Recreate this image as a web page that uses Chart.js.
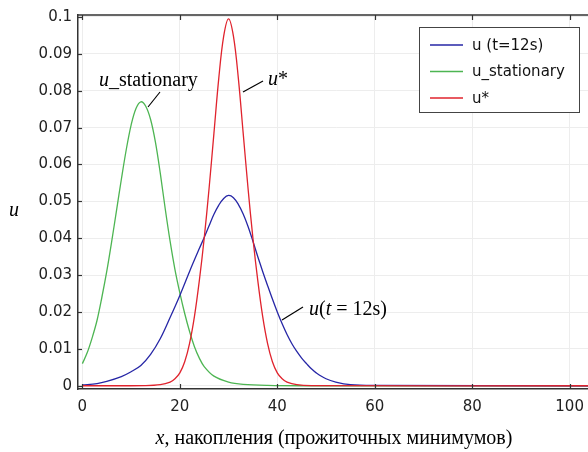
<!DOCTYPE html>
<html>
<head>
<meta charset="utf-8">
<script src="https://cdn.jsdelivr.net/npm/chart.js@4.4.1/dist/chart.umd.min.js"></script>
<style>
  html, body { margin: 0; padding: 0; background: #fff; overflow: hidden; width: 588px; height: 452px; }
  canvas { display: block; }
</style>
</head>
<body>
<canvas id="grafico" width="600" height="452"></canvas>
<script>
const xTicks = [0, 20, 40, 60, 80, 100];
const yTicks = [0, 0.01, 0.02, 0.03, 0.04, 0.05, 0.06, 0.07, 0.08, 0.09, 0.1];

const nomes = ["u (t=12s)", "u_stationary", "u*"];
const cores = ["#2626a6", "#4db552", "#e0232d"];

// u(t=12s)
const xT12 = [0, 3, 5, 8, 10, 12, 14, 16, 18, 20, 22, 24, 25, 26, 27, 28, 29, 30, 31, 32, 33, 34, 35, 36, 37, 38, 39, 40, 41, 42, 43, 44, 45, 46, 47, 48, 50, 52, 55, 60, 105];
const uT12 = [0.0002, 0.0006, 0.0012, 0.0025, 0.0038, 0.0055, 0.0085, 0.0128, 0.0185, 0.0245, 0.031, 0.0372, 0.0402, 0.0434, 0.0465, 0.049, 0.0508, 0.0516, 0.051, 0.0492, 0.0466, 0.0432, 0.0392, 0.035, 0.031, 0.0272, 0.0235, 0.0200, 0.0168, 0.0139, 0.0114, 0.0093, 0.0075, 0.006, 0.0046, 0.0035, 0.0019, 0.001, 0.0003, 0.0001, 0];

// u_stationary
const xStat = [0, 1, 2, 3, 4, 5, 6, 7, 8, 9, 10, 11, 12, 13, 14, 15, 16, 17, 18, 19, 20, 21, 22, 23, 24, 25, 27, 30, 33, 38, 45, 105];
const uStat = [0.006, 0.009, 0.013, 0.0177, 0.024, 0.031, 0.039, 0.0475, 0.056, 0.064, 0.0707, 0.0752, 0.077, 0.0758, 0.0722, 0.066, 0.0575, 0.048, 0.0392, 0.0315, 0.0252, 0.0196, 0.0147, 0.0106, 0.0075, 0.0052, 0.0026, 0.001, 0.0004, 0.0001, 0, 0];

// u*
const xStar = [0, 13, 16, 18, 19, 20, 21, 22, 23, 24, 25, 26, 27, 28, 29, 30, 31, 32, 33, 34, 35, 36, 37, 38, 39, 40, 41, 42, 44, 47, 105];
const uStar = [0, 0.00005, 0.0003, 0.001, 0.0019, 0.0035, 0.0065, 0.0115, 0.0188, 0.0285, 0.040, 0.0535, 0.0685, 0.0835, 0.0948, 0.0995, 0.0948, 0.0835, 0.0685, 0.0535, 0.040, 0.0285, 0.0188, 0.0115, 0.0065, 0.0035, 0.0019, 0.001, 0.0003, 0.00005, 0];

const pontos = (xs, ys) => xs.map((x, i) => ({ x, y: ys[i] }));

const SERIF = '"Liberation Serif", "Times New Roman", serif';
const SANS = '"DejaVu Sans", sans-serif';

// texto com partes em itálico
function textoMisto(ctx, partes, x, y, size, align) {
  let largura = 0;
  partes.forEach(p => {
    ctx.font = (p.i ? "italic " : "") + size + "px " + SERIF;
    largura += ctx.measureText(p.t).width;
  });
  let cx = align === "center" ? x - largura / 2 : x;
  ctx.textAlign = "left";
  partes.forEach(p => {
    ctx.font = (p.i ? "italic " : "") + size + "px " + SERIF;
    ctx.fillText(p.t, cx, y);
    cx += ctx.measureText(p.t).width;
  });
}

function linha(ctx, x1, y1, x2, y2) {
  ctx.beginPath();
  ctx.moveTo(x1, y1);
  ctx.lineTo(x2, y2);
  ctx.stroke();
}

const moldura = {
  id: "moldura",
  afterDatasetsDraw(chart) {
    const { ctx, chartArea: a, scales } = chart;
    ctx.save();
    ctx.strokeStyle = "#333";
    ctx.lineWidth = 1.5;
    linha(ctx, a.left, a.top, a.right, a.top);
    ctx.lineWidth = 1.2;
    xTicks.forEach(v => {
      const px = Math.round(scales.x.getPixelForValue(v)) + 0.5;
      linha(ctx, px, a.bottom, px, a.bottom - 5);
      linha(ctx, px, a.top, px, a.top + 5);
    });
    yTicks.forEach(v => {
      const py = Math.round(scales.y.getPixelForValue(v)) + 0.5;
      linha(ctx, a.left, py, a.left + 4, py);
    });
    ctx.restore();
  },
  afterDraw(chart) {
    const ctx = chart.ctx;
    ctx.save();

    // legenda
    ctx.fillStyle = "#fff";
    ctx.fillRect(419.5, 27.5, 160, 85);
    ctx.strokeStyle = "#444";
    ctx.lineWidth = 1;
    ctx.strokeRect(419.5, 27.5, 160, 85);
    const linhasY = [45, 71.5, 98];
    nomes.forEach((n, i) => {
      ctx.strokeStyle = cores[i];
      ctx.lineWidth = 1.6;
      linha(ctx, 430, linhasY[i], 463, linhasY[i]);
      ctx.fillStyle = "#111";
      ctx.font = "15px " + SANS;
      ctx.textBaseline = "middle";
      ctx.textAlign = "left";
      ctx.fillText(n, 472, linhasY[i] + 1);
    });

    // anotações
    ctx.fillStyle = "#000";
    ctx.strokeStyle = "#000";
    ctx.lineWidth = 1.2;
    ctx.textBaseline = "alphabetic";
    textoMisto(ctx, [{ t: "u", i: true }, { t: "_stationary" }], 99, 86, 20, "left");
    linha(ctx, 160, 92, 148, 107);
    textoMisto(ctx, [{ t: "u", i: true }, { t: "*" }], 268, 85, 20, "left");
    linha(ctx, 263, 81, 243, 92);
    textoMisto(ctx, [{ t: "u", i: true }, { t: "(" }, { t: "t", i: true }, { t: " = 12s)" }], 309, 315, 20, "left");
    linha(ctx, 303, 307, 282, 320);

    // títulos dos eixos
    textoMisto(ctx, [{ t: "u", i: true }], 9, 216, 20, "left");
    textoMisto(ctx, [{ t: "x", i: true }, { t: ", накопления (прожиточных минимумов)" }], 334, 444, 20, "center");
    ctx.restore();
  }
};

const ctx = document.getElementById("grafico");

new Chart(ctx, {
  type: "line",
  data: {
    datasets: [
      { label: nomes[0], data: pontos(xT12, uT12), borderColor: cores[0], order: 2 },
      { label: nomes[1], data: pontos(xStat, uStat), borderColor: cores[1], order: 3 },
      { label: nomes[2], data: pontos(xStar, uStar), borderColor: cores[2], order: 1 }
    ]
  },
  options: {
    responsive: false,
    animation: false,
    layout: { padding: { left: 0, right: 6, top: 11, bottom: 0 } },
    elements: {
      point: { radius: 0 },
      line: { borderWidth: 1.3, tension: 0.35, fill: false }
    },
    plugins: {
      legend: { display: false },
      tooltip: { enabled: false }
    },
    scales: {
      x: {
        type: "linear",
        min: -0.9,
        max: 105,
        afterBuildTicks: s => { s.ticks = xTicks.map(v => ({ value: v })); },
        afterFit: s => { s.height = 63; },
        grid: { color: "#ededed", drawTicks: false },
        border: { color: "#333", width: 1.5 },
        ticks: { font: { family: SANS, size: 15 }, color: "#222", padding: 9, maxRotation: 0 }
      },
      y: {
        min: -0.00088,
        max: 0.10054,
        afterBuildTicks: s => { s.ticks = yTicks.map(v => ({ value: v })); },
        afterFit: s => { s.width = 78; },
        grid: { color: "#ededed", drawTicks: false },
        border: { color: "#333", width: 1.5 },
        ticks: {
          font: { family: SANS, size: 15 },
          color: "#222",
          padding: 6,
          callback: v => String(Number(v.toFixed(2)))
        }
      }
    }
  },
  plugins: [moldura]
});
</script>
</body>
</html>
